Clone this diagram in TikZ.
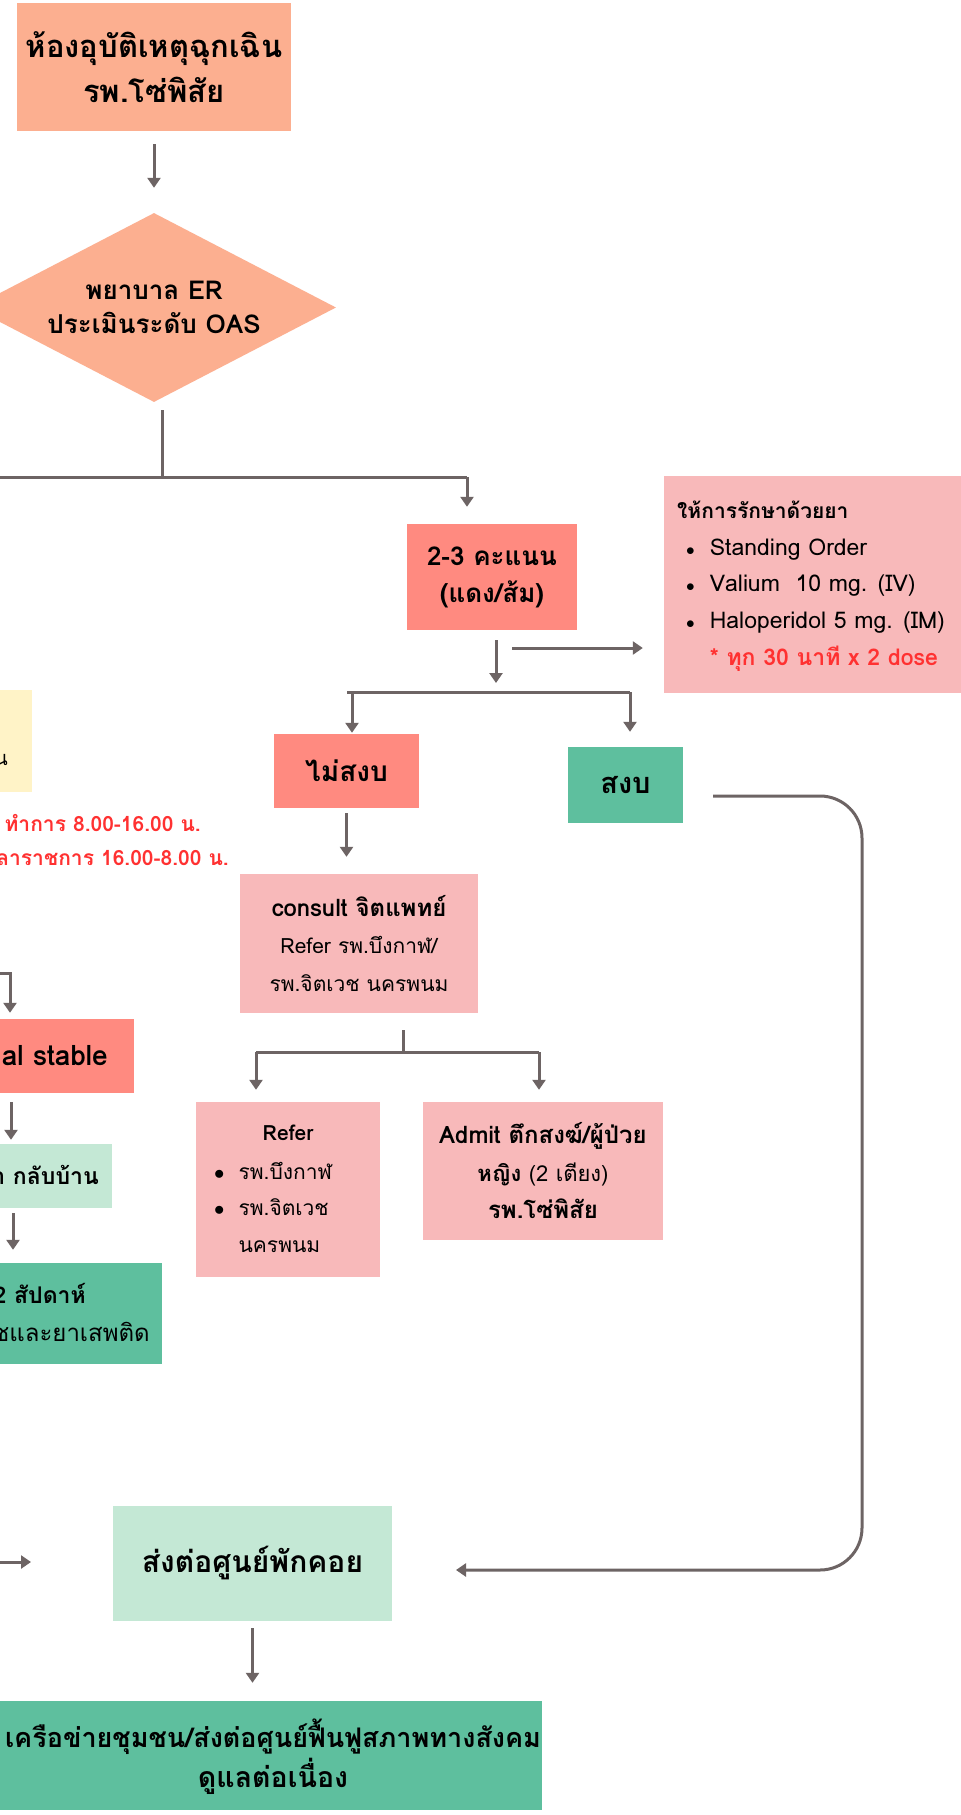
\documentclass[tikz,border=0pt]{standalone}
\usepackage{fontspec}
\setmainfont{Loma}[Script=Thai]
\usetikzlibrary{shapes.geometric,arrows.meta}
\definecolor{peach}{HTML}{FCAF90}
\definecolor{salmonbox}{HTML}{FF8A80}
\definecolor{pinkbox}{HTML}{F8B9BA}
\definecolor{yellowbox}{HTML}{FFF3C7}
\definecolor{mintbox}{HTML}{C4E8D5}
\definecolor{tealbox}{HTML}{5EBF9E}
\definecolor{linec}{HTML}{6D6464}
\definecolor{redtxt}{HTML}{FF3131}
\newcommand\fs[2]{\fontsize{#1}{#2}\selectfont}
\newcommand\smbul{$\scriptstyle\bullet$}
\begin{document}
\begin{tikzpicture}[x=1pt,y=-1pt,
  box/.style={draw=none, inner sep=0pt, align=center, text=black},
  txt/.style={inner sep=0pt, text=black},
  conn/.style={draw=linec, line width=3pt},
  arr/.style={conn, -{Triangle[width=13pt,length=10pt]}}]
\useasboundingbox (0,0) rectangle (961,1815);
\clip (0,0) rectangle (961,1815);
\fill[white] (0,0) rectangle (961,1815);

% top
\node[box, fill=peach, minimum width=274pt, minimum height=128pt, font=\fs{31}{45}\bfseries] (top) at (154,67) {ห้องอุบัติเหตุฉุกเฉิน\\รพ.โซ่พิสัย};
\node[diamond, aspect=1.93, fill=peach, inner sep=0pt, minimum width=364pt, minimum height=189pt, align=center, font=\fs{26}{34}\bfseries] (dia) at (154,307.5) {พยาบาล ER\\ประเมินระดับ OAS};
\draw[arr, shorten <=13pt, shorten >=25pt] (top.south) -- (dia.north);

% split under diamond
\coordinate (jA) at (162,477);
\coordinate (jL) at (-10,477);
\coordinate (jR) at (467,477);
\draw[conn, shorten <=8pt] (dia.south -| jA) -- (jA);
\draw[conn] (jL) -- (jR);

% 2-3 box
\node[box, fill=salmonbox, minimum width=170pt, minimum height=106pt, font=\fs{26}{37}\bfseries] (s23) at (492,577) {2-3 คะแนน\\(แดง/ส้ม)};
\draw[arr, shorten >=17pt] (jR) -- (jR |- s23.north);

% medication box
\node[box, fill=pinkbox, minimum width=311pt, minimum height=217pt] (med) at (819.5,584.5) {};
\node[txt, anchor=west, font=\fs{21}{24}\bfseries] (medt) at (677,510) {ให้การรักษาด้วยยา};
\node[txt, anchor=west, font=\fs{23}{36.7}] (medl) at (686,603) {\begin{tabular}{@{}l@{\hspace{15pt}}l@{}}
\smbul & Standing Order\\
\smbul & Valium\ \ 10 mg. (IV)\\
\smbul & Haloperidol 5 mg. (IM)\\
 & \textcolor{redtxt}{\bfseries * ทุก 30 นาที x 2 dose}
\end{tabular}};

\coordinate (b1) at (496,692);
\coordinate (r0) at (512,648);
\draw[arr, shorten <=10pt, shorten >=9pt] (s23.south -| b1) -- (b1);
\draw[arr, shorten >=21pt] (r0) -- (r0 -| med.west);

% branch
\coordinate (bL) at (352,692);
\coordinate (bR) at (630,692);
\draw[conn] ([xshift=-5pt]bL) -- (bR);
\node[box, fill=salmonbox, minimum width=145pt, minimum height=74pt, font=\fs{28}{30}\bfseries] (ns) at (346.5,771) {ไม่สงบ};
\node[box, fill=tealbox, minimum width=115pt, minimum height=76pt, font=\fs{29}{30}\bfseries] (calm) at (625.5,785) {สงบ};
\draw[arr, shorten >=1pt] (bL) -- (bL |- ns.north);
\draw[arr, shorten >=15pt] (bR) -- (bR |- calm.north);

% consult
\node[box, fill=pinkbox, minimum width=238pt, minimum height=139pt, font=\fs{21}{37.5}] (consult) at (359,943.5) {{\fs{24}{37.5}\bfseries consult จิตแพทย์}\\Refer รพ.บึงกาฬ/\\รพ.จิตเวช นครพนม};
\draw[arr, shorten <=5pt, shorten >=17pt] (ns.south) -- (ns.south |- consult.north);

\coordinate (c0) at (403,1052);
\coordinate (cL) at (256,1052);
\coordinate (cR) at (539,1052);
\draw[conn, shorten <=17pt] (consult.south -| c0) -- (c0);
\draw[conn] (cL) -- (cR);

\node[box, fill=pinkbox, minimum width=184pt, minimum height=175pt] (refer) at (288,1189.5) {};
\node[txt, font=\fs{21}{24}\bfseries] (refert) at (288,1133) {Refer};
\node[txt, anchor=west, font=\fs{21}{36.5}] (referl) at (214,1208.5) {\begin{tabular}{@{}l@{\hspace{14pt}}l@{}}
$\bullet$ & รพ.บึงกาฬ\\
$\bullet$ & รพ.จิตเวช\\
 & นครพนม
\end{tabular}};
\node[box, fill=pinkbox, minimum width=240pt, minimum height=138pt, font=\fs{22}{37.5}] (admit) at (543,1171) {{\fs{24}{37.5}\bfseries Admit ตึกสงฆ์/ผู้ป่วย}\\{\bfseries หญิง} (2 เตียง)\\{\fs{24}{37.5}\bfseries รพ.โซ่พิสัย}};
\draw[arr, shorten >=12pt] (cL) -- (cL |- refer.north);
\draw[arr, shorten >=12pt] (cR) -- (cR |- admit.north);

% left partial column
\node[box, fill=yellowbox, minimum width=80pt, minimum height=102pt] (yel) at (-8,741) {};
\node[txt, anchor=east, font=\fs{20}{24}] (yelt) at (8,760) {น};
\node[txt, anchor=east, text=redtxt, font=\fs{21}{24}\bfseries] (rt1) at (201,823) {ทำการ 8.00-16.00 น.};
\node[txt, anchor=east, text=redtxt, font=\fs{21}{24}\bfseries] (rt2) at (229,858) {ลาราชการ 16.00-8.00 น.};

\node[box, fill=salmonbox, minimum width=200pt, minimum height=74pt] (vs) at (34,1056) {};
\node[txt, anchor=east, font=\fs{28}{30}\bfseries] (vst) at (108,1056) {al stable};
\coordinate (k0) at (-5,973);
\coordinate (k1) at (10,973);
\draw[arr, shorten >=6pt] (k0) -- (k1) -- (k1 |- vs.north);

\coordinate (x11) at (11,0);
\coordinate (x13) at (13,0);
\node[box, fill=mintbox, minimum width=160pt, minimum height=64pt] (home) at (32,1176) {};
\node[txt, anchor=east, font=\fs{23}{26}\bfseries] (homet) at (99,1175) {า กลับบ้าน};
\draw[arr, shorten <=9pt, shorten >=4pt] (vs.south -| x11) -- (x11 |- home.north);

\node[box, fill=tealbox, minimum width=212pt, minimum height=101pt] (fu) at (56,1313.5) {};
\node[txt, anchor=east, font=\fs{23}{26}\bfseries] (fut1) at (86,1293) {2 สัปดาห์};
\node[txt, anchor=east, font=\fs{24}{26}] (fut2) at (150,1332) {ชและยาเสพติด};
\draw[arr, shorten <=5pt, shorten >=13pt] (home.south -| x13) -- (x13 |- fu.north);

% bottom
\node[box, fill=mintbox, minimum width=279pt, minimum height=115pt, font=\fs{30}{30}\bfseries] (half) at (252.5,1563.5) {ส่งต่อศูนย์พักคอย};
\coordinate (la) at (-5,1562);
\coordinate (lb) at (31,1562);
\draw[arr] (la) -- (lb);
\node[box, fill=tealbox, minimum width=558pt, minimum height=109pt] (bot) at (263,1755.5) {};
\node[txt, align=center, font=\fs{27}{40}\bfseries] (bott) at (273,1757) {เครือข่ายชุมชน/ส่งต่อศูนย์ฟื้นฟูสภาพทางสังคม\\{\fs{28.5}{40}ดูแลต่อเนื่อง}};
\draw[arr, shorten <=7pt, shorten >=18pt] (half.south) -- (half.south |- bot.north);

% return connector from calm
\coordinate (q0) at (713,796);
\coordinate (q1) at (862,796);
\coordinate (q2) at (862,1570);
\coordinate (q3) at (456,1570);
\draw[arr, rounded corners=42pt] (q0) -- (q1) -- (q2) -- (q3);
\end{tikzpicture}
\end{document}
